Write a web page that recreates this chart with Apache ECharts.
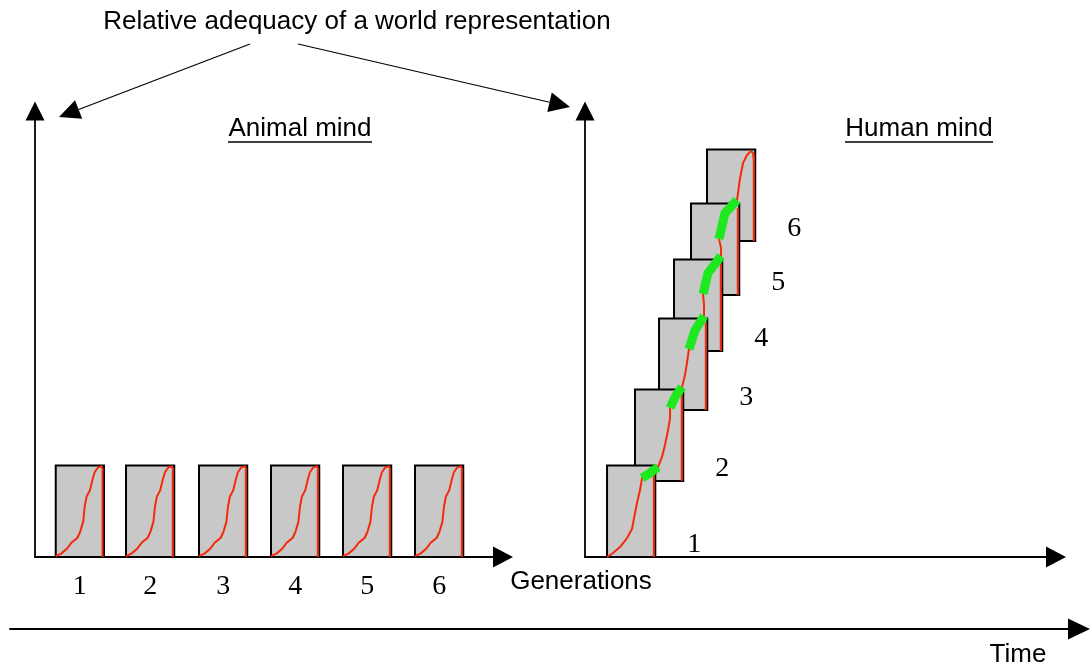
<!DOCTYPE html>
<html>
<head>
<meta charset="utf-8">
<title>Animal mind / Human mind</title>
<script src="https://cdn.jsdelivr.net/npm/echarts@6/dist/echarts.min.js"></script>
<style>
html, body { margin: 0; padding: 0; background: #fff; }
#main { width: 1092px; height: 667px; }
</style>
</head>
<body>
<div id="main"></div>
<script>
// generation numbers
var generations = ['1', '2', '3', '4', '5', '6'];

// animal mind: every generation starts again from zero (x = start in time units, y = base level)
var animalStart = [0.288, 1.264, 2.278, 3.278, 4.278, 5.278];
var animalBase = [0, 0, 0, 0, 0, 0];

// human mind: each generation starts from where the one before got to
var humanStart = [0.306, 0.694, 1.028, 1.236, 1.472, 1.694];
var humanBase = [0, 0.830, 1.605, 2.249, 2.860, 3.450];

// one lifetime = one box
var lifeSpan = 0.67;
var lifeGain = 1;

// learning curve inside one lifetime, as fractions of the box
var curveT = [0, 0.12, 0.23, 0.33, 0.45, 0.51, 0.57, 0.60, 0.64, 0.71, 0.76, 0.81, 0.88, 0.95, 0.98];
var curveV = [0.01, 0.04, 0.09, 0.16, 0.21, 0.28, 0.39, 0.55, 0.66, 0.73, 0.84, 0.93, 0.98, 0.99, 0.95];

// human red curve, continuous through the stacked boxes
var humanCurveX = [0.306, 0.389, 0.486, 0.583, 0.653, 0.681, 0.722, 0.764, 0.792, 0.903, 1.014, 1.069, 1.111, 1.153,
    1.181, 1.181, 1.250, 1.347, 1.389, 1.417, 1.444, 1.528, 1.653, 1.653, 1.639, 1.708, 1.889, 1.889, 1.861, 1.972,
    2.111, 2.153, 2.194, 2.250, 2.306, 2.333, 2.347];
var humanCurveY = [0, 0.044, 0.109, 0.207, 0.306, 0.426, 0.590, 0.731, 0.862, 0.917, 0.983, 1.092, 1.223, 1.386,
    1.517, 1.627, 1.747, 1.856, 1.987, 2.129, 2.271, 2.478, 2.631, 2.751, 2.871, 3.100, 3.286, 3.373, 3.472, 3.755,
    3.897, 4.138, 4.301, 4.389, 4.432, 4.410, 4.334];

// green hand-over pieces (what the next generation takes over)
var handoverX = [[0.792, 0.903, 1.014], [1.181, 1.250, 1.347], [1.444, 1.528, 1.653], [1.639, 1.708, 1.889], [1.861, 1.944, 2.111]];
var handoverY = [[0.862, 0.917, 0.983], [1.627, 1.747, 1.856], [2.271, 2.478, 2.631], [2.871, 3.100, 3.286], [3.472, 3.755, 3.897]];

var RED = '#f52a0a';
var GREEN = '#1ee81e';
var SANS = '"Liberation Sans", Arial, Helvetica, sans-serif';
var SERIF = '"Liberation Serif", "Times New Roman", serif';

var chart = echarts.init(document.getElementById('main'));

function boxRenderer(withCurve, labelBelow) {
    return function (params, api) {
        var x = api.value(0), y = api.value(1), i = api.value(2);
        var bl = api.coord([x, y]);
        var tr = api.coord([x + lifeSpan, y + lifeGain]);
        var w = tr[0] - bl[0], h = bl[1] - tr[1];
        var children = [{
            type: 'rect',
            shape: { x: bl[0], y: tr[1], width: w, height: h },
            style: { fill: '#c8c8c8', stroke: '#000', lineWidth: 2 }
        }];
        if (withCurve) {
            var pts = curveT.map(function (t, k) {
                return [bl[0] + t * w, bl[1] - curveV[k] * h];
            });
            children.push({
                type: 'polyline', shape: { points: pts },
                style: { stroke: RED, lineWidth: 2, fill: null }
            });
        }
        // red drop at the end of the life
        children.push({
            type: 'line',
            shape: { x1: tr[0] - 1.5, y1: bl[1] - 0.95 * h, x2: tr[0] - 1.5, y2: bl[1] },
            style: { stroke: RED, lineWidth: 2 }
        });
        var lx = labelBelow ? bl[0] + w / 2 : tr[0] + 39;
        var ly = labelBelow ? bl[1] + 30 : bl[1] - 12;
        children.push({
            type: 'text', x: lx, y: ly,
            style: {
                text: generations[i], font: '28px ' + SERIF, fill: '#000',
                align: 'center', verticalAlign: 'middle'
            }
        });
        return { type: 'group', children: children };
    };
}

function arrow(x1, y1, x2, y2, len, wid) {
    var dx = x2 - x1, dy = y2 - y1, d = Math.sqrt(dx * dx + dy * dy);
    var ux = dx / d, uy = dy / d;
    var bx = x2 - ux * len, by = y2 - uy * len;
    return [{
        type: 'line', shape: { x1: x1, y1: y1, x2: bx, y2: by },
        style: { stroke: '#000', lineWidth: 1.2 }
    }, {
        type: 'polygon',
        shape: { points: [[x2, y2], [bx - uy * wid / 2, by + ux * wid / 2], [bx + uy * wid / 2, by - ux * wid / 2]] },
        style: { fill: '#000' }
    }];
}

function label(text, x, y) {
    return {
        type: 'text', x: x, y: y,
        style: { text: text, font: '26px ' + SANS, fill: '#000', align: 'center', verticalAlign: 'middle' }
    };
}

function underline(x1, x2, y) {
    return { type: 'line', shape: { x1: x1, y1: y, x2: x2, y2: y }, style: { stroke: '#000', lineWidth: 1.5 } };
}

var animalData = animalStart.map(function (x, i) { return [x, animalBase[i], i]; });
var humanData = [];
for (var i = humanStart.length - 1; i >= 0; i--) {
    humanData.push([humanStart[i], humanBase[i], i]); // lower boxes drawn on top
}

function axisX(grid, max, arrowSize) {
    return {
        type: 'value', gridIndex: grid, min: 0, max: max,
        axisLine: { show: true, onZero: false, symbol: ['none', 'triangle'], symbolSize: arrowSize,
            lineStyle: { color: '#000', width: 1.8 } },
        axisTick: { show: false }, axisLabel: { show: false }, splitLine: { show: false }
    };
}
function axisY(grid, max, show) {
    return {
        type: 'value', gridIndex: grid, min: 0, max: max, show: show,
        axisLine: { show: true, onZero: false, symbol: ['none', 'triangle'], symbolSize: [19, 19],
            lineStyle: { color: '#000', width: 1.8 } },
        axisTick: { show: false }, axisLabel: { show: false }, splitLine: { show: false }
    };
}

var option = {
    animation: false,
    backgroundColor: '#fff',
    grid: [
        { left: 35, top: 111, width: 468, height: 446 },
        { left: 585, top: 111, width: 471, height: 446 },
        { left: 10, top: 560, width: 1069, height: 69 }
    ],
    xAxis: [axisX(0, 6.5, [21, 20]), axisX(1, 6.54, [21, 20]), axisX(2, 1, [21, 22])],
    yAxis: [axisY(0, 4.87, true), axisY(1, 4.87, true), axisY(2, 1, false)],
    series: [{
        name: 'Animal mind',
        type: 'custom', xAxisIndex: 0, yAxisIndex: 0, clip: false,
        renderItem: boxRenderer(true, true),
        data: animalData
    }, {
        name: 'Human mind',
        type: 'custom', xAxisIndex: 1, yAxisIndex: 1, clip: false,
        renderItem: boxRenderer(false, false),
        data: humanData
    }, {
        name: 'Human curve',
        type: 'line', xAxisIndex: 1, yAxisIndex: 1, z: 3,
        showSymbol: false, symbol: 'none',
        lineStyle: { color: RED, width: 2 },
        data: humanCurveX.map(function (x, k) { return [x, humanCurveY[k]]; })
    }, {
        name: 'Hand-over',
        type: 'lines', coordinateSystem: 'cartesian2d', xAxisIndex: 1, yAxisIndex: 1, z: 4,
        polyline: true,
        lineStyle: { color: GREEN, width: 9, opacity: 1, curveness: 0 },
        data: handoverX.map(function (xs, k) {
            return { coords: xs.map(function (x, j) { return [x, handoverY[k][j]]; }) };
        })
    }],
    graphic: [
        label('Relative adequacy of a world representation', 357, 22),
        label('Animal mind', 300, 129),
        underline(228, 372, 142),
        label('Human mind', 919, 129),
        underline(845, 993, 142),
        label('Generations', 581, 582),
        label('Time', 1018, 655)
    ].concat(arrow(250, 44, 59, 117, 21, 20)).concat(arrow(298, 44, 570, 107, 21, 20))
};

chart.setOption(option);
</script>
</body>
</html>
